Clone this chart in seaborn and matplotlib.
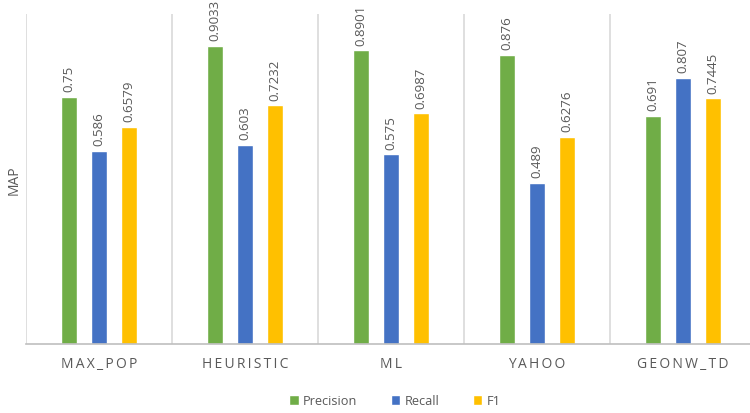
import matplotlib
matplotlib.use("Agg")
import matplotlib.pyplot as plt
import seaborn as sns
import pandas as pd

methods = ["MAX_POP", "HEURISTIC", "ML", "YAHOO", "GEONW_TD"]
series = ["Precision", "Recall", "F1"]
precision = [0.75, 0.9033, 0.8901, 0.876, 0.691]
recall = [0.586, 0.603, 0.575, 0.489, 0.807]
f1 = [0.6579, 0.7232, 0.6987, 0.6276, 0.7445]

colors = ["#70AD47", "#4472C4", "#FFC000"]
text_gray = "#595959"

rows = []
for name, vals in zip(series, [precision, recall, f1]):
    for m, v in zip(methods, vals):
        rows.append({"method": m, "metric": name, "MAP": v})
df = pd.DataFrame(rows)

sns.set_theme(style="white")
plt.rcParams["font.family"] = ["Open Sans", "DejaVu Sans"]

fig = plt.figure(figsize=(7.5, 4.14), dpi=100)
ax = fig.add_axes([26 / 750, 69 / 414, 730 / 750, 330 / 414])

sns.barplot(data=df, x="method", y="MAP", hue="metric", order=methods,
            hue_order=series, palette=colors, width=0.616, gap=0.46,
            saturation=1, ax=ax, legend=True)

for cont in ax.containers:
    ax.bar_label(cont, labels=[f"{b.get_height():g}" for b in cont],
                 rotation=90, padding=4, fontsize=9.5, color=text_gray)

ax.set_ylim(0, 1.0)
ax.set_xlim(-0.5, 4.5)
ax.set_yticks([])
ax.set_xlabel("")
ax.set_ylabel("MAP", fontsize=10, color=text_gray, labelpad=3)

# spaced-out category labels
ax.set_xticks(range(len(methods)))
ax.set_xticklabels(["\u2009".join(m) for m in methods], fontsize=10,
                   color=text_gray)
ax.tick_params(axis="x", length=0, pad=9)

# vertical separators between categories
for xb in [i - 0.5 for i in range(len(methods))]:
    ax.axvline(xb, color="#D9D9D9", lw=1.2, zorder=0)

for s in ["top", "right", "left"]:
    ax.spines[s].set_visible(False)
ax.spines["bottom"].set_color("#BFBFBF")
ax.spines["bottom"].set_linewidth(1.2)

handles, labels = ax.get_legend_handles_labels()
ax.legend(handles, labels, loc="center", bbox_to_anchor=(395 / 750, 12 / 414),
          bbox_transform=fig.transFigure, ncol=3, frameon=False,
          fontsize=9.2, handlelength=0.75, handleheight=0.75,
          handletextpad=0.35, columnspacing=2.6, labelcolor=text_gray)

fig.savefig("out.png", dpi=100)
